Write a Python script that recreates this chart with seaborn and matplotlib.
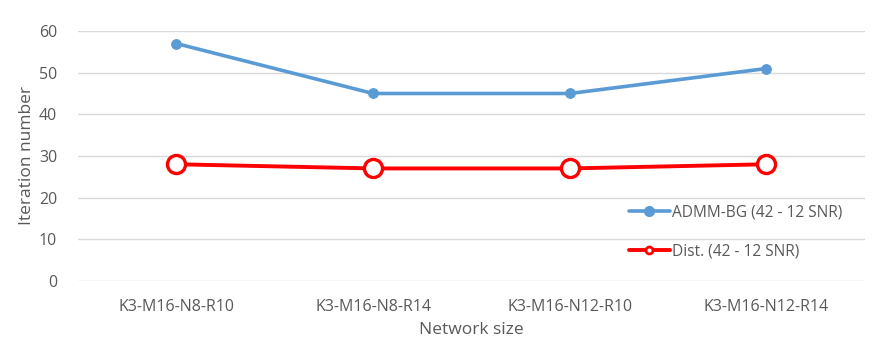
import matplotlib
matplotlib.use("Agg")
import matplotlib.pyplot as plt
import seaborn as sns
import pandas as pd
from matplotlib.lines import Line2D

categories = ["K3-M16-N8-R10", "K3-M16-N8-R14", "K3-M16-N12-R10", "K3-M16-N12-R14"]
admm_bg = [57, 45, 45, 51]
dist = [28, 27, 27, 28]
series_names = ["ADMM-BG (42 - 12 SNR)", "Dist. (42 - 12 SNR)"]
yticks = [0, 10, 20, 30, 40, 50, 60]

sns.set_style("white")
plt.rcParams["font.family"] = ["Open Sans", "DejaVu Sans"]

df = pd.DataFrame({
    "Network size": categories * 2,
    "pos": list(range(len(categories))) * 2,
    "Iteration number": admm_bg + dist,
    "series": [series_names[0]] * 4 + [series_names[1]] * 4,
})

fig = plt.figure(figsize=(8.86, 3.61), dpi=100)
ax = fig.add_axes([0.088, 0.222, 0.888, 0.692])

blue = "#5b9bd5"
red = "#ff0000"
grey = "#595959"

d1 = df[df.series == series_names[0]]
d2 = df[df.series == series_names[1]]
sns.lineplot(data=d1, x="pos", y="Iteration number", ax=ax, color=blue, lw=2.6,
             marker="o", markersize=7, markeredgecolor=blue, markerfacecolor=blue)
sns.lineplot(data=d2, x="pos", y="Iteration number", ax=ax, color=red, lw=2.8,
             marker="o", markersize=13, markeredgecolor=red, markerfacecolor="white",
             markeredgewidth=2.4)

ax.set_xlim(-0.5, 3.5)
ax.set_ylim(0, 60)
ax.set_yticks(yticks)
ax.set_xticks(range(len(categories)))
ax.set_xticklabels(categories)
ax.yaxis.grid(True, color="#d9d9d9", lw=1)
ax.set_axisbelow(True)
for s in ax.spines.values():
    s.set_visible(False)
ax.tick_params(axis="both", length=0, colors=grey, labelsize=11.5)
ax.tick_params(axis="x", pad=13)
ax.tick_params(axis="y", pad=15)
ax.set_xlabel("Network size", color=grey, fontsize=12.5, labelpad=5)
ax.set_ylabel("Iteration number", color=grey, fontsize=12.5, labelpad=3)

handles = [
    Line2D([], [], color=blue, lw=2.6, marker="o", markersize=7, markerfacecolor=blue, markeredgecolor=blue),
    Line2D([], [], color=red, lw=2.8, marker="o", markersize=5, markerfacecolor="white",
           markeredgecolor=red, markeredgewidth=2),
]
leg = fig.legend(handles, series_names, loc="upper left", bbox_to_anchor=(0.703, 0.452),
                 frameon=False, fontsize=11.2, labelspacing=1.5, handlelength=2.6,
                 handletextpad=0.15, borderaxespad=0)
for t in leg.get_texts():
    t.set_color(grey)

fig.savefig("out.png", dpi=100)
